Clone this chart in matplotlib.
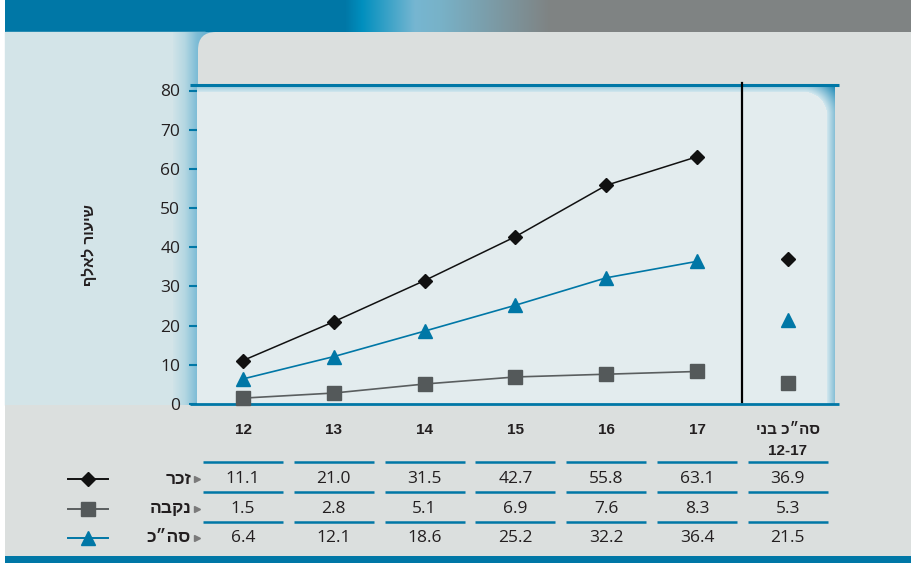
import numpy as np
import matplotlib.pyplot as plt
from matplotlib.colors import to_rgb
from matplotlib.patches import Rectangle, FancyBboxPatch
from matplotlib.transforms import blended_transform_factory

# data: rate per 1000, by age
ages = [12, 13, 14, 15, 16, 17]
male = [11.1, 21.0, 31.5, 42.7, 55.8, 63.1]
female = [1.5, 2.8, 5.1, 6.9, 7.6, 8.3]
total = [6.4, 12.1, 18.6, 25.2, 32.2, 36.4]
# whole 12-17 age group
all_male = 36.9
all_female = 5.3
all_total = 21.5

row_labels = ['זכר', 'נקבה', 'סה״כ']
col_headers = ['12', '13', '14', '15', '16', '17']
all_header = 'סה״כ בני'
all_header2 = '12-17'
y_label = 'שיעור לאלף'
yticks = [0, 10, 20, 30, 40, 50, 60, 70, 80]

BLUE = '#0077a6'
TXT = '#231f20'
HEB = ['Liberation Sans', 'DejaVu Sans']
NUM = ['Open Sans', 'DejaVu Sans']


def rtl(s):
    # matplotlib has no bidi, so flip hebrew by hand
    return s[::-1]


def ramp(stops, xs):
    pos = [p for p, c in stops]
    cols = np.array([to_rgb(c) for p, c in stops])
    return np.stack([np.interp(xs, pos, cols[:, k]) for k in range(3)], axis=-1)


W, H = 911, 563
fig = plt.figure(figsize=(W / 100, H / 100), dpi=100)
fig.patch.set_facecolor('white')

# background layer in pixel coords
bg = fig.add_axes([0, 0, 1, 1], zorder=0)
bg.axis('off')

# top band
xs = np.arange(5, W) + 0.5
band = ramp([(0, BLUE), (345, BLUE), (362, '#008fbe'), (415, '#76b6d1'),
             (440, '#78b2c8'), (550, '#7f8383'), (W, '#7f8383')], xs)
bg.imshow(band[None, :, :], extent=[5, W, 32, 0], aspect='auto', zorder=1)

# left light blue area and strip
bg.add_patch(Rectangle((5, 32), 200, 373, color='#d3e4e8', zorder=1))
xs = np.arange(173, 215) + 0.5
strip = ramp([(173, '#d0e3e8'), (185, '#b4d7e2'), (197, '#7dbcd6'), (215, '#5aa8cc')], xs)
bg.imshow(strip[None, :, :], extent=[173, 215, 405, 32], aspect='auto', zorder=2)

# grey area with rounded corner
bg.add_patch(FancyBboxPatch((198, 32), 800, 420, boxstyle='round,pad=0,rounding_size=18',
                            color='#dbdfde', lw=0, zorder=3))
bg.add_patch(Rectangle((5, 405), W, 151, color='#dbdfde', lw=0, zorder=3))
bg.add_patch(Rectangle((5, 556), W, 8, color=BLUE, lw=0, zorder=3))

# plot panel with blue edge on top and right
px = np.arange(197, 835) + 0.5
py = np.arange(84, 404) + 0.5
X, Y = np.meshgrid(px, py)
r = 23
cx, cy = 827 - r, 92 + r
d = np.maximum(X - 827, 92 - Y)
d = np.where((X > cx) & (Y < cy), np.hypot(X - cx, Y - cy) - r, d)
t = np.clip(d / 21, 0, 1)
e0 = np.array(to_rgb('#d2e7ee'))
e1 = np.array(to_rgb('#0a7fb0'))
img = e0 + (e1 - e0) * t[..., None]
img = np.where((d <= 0)[..., None], np.array(to_rgb('#e3ecee')), img)
bg.imshow(img, extent=[197, 835, 404, 84], aspect='auto', interpolation='bilinear', zorder=4)
bg.plot([190, 839], [84.5, 84.5], color=BLUE, lw=2.2, zorder=5, solid_capstyle='butt')
bg.plot([190, 839], [404, 404], color=BLUE, lw=2.0, zorder=5, solid_capstyle='butt')

bg.set_xlim(0, W)
bg.set_ylim(H, 0)

# main chart
ax = fig.add_axes([197 / W, (H - 404) / H, (835 - 197) / W, (404 - 90.5) / H], zorder=2)
ax.patch.set_alpha(0)
for s in ax.spines.values():
    s.set_visible(False)
ax.set_xlim(11.493, 18.52)
ax.set_ylim(0, 80)
ax.set_yticks(yticks)
ax.set_xticks([])
ax.tick_params(axis='y', direction='out', length=6, width=1.5, color=BLUE, pad=6,
               labelsize=12.5, labelcolor=TXT)
for lab in ax.get_yticklabels():
    lab.set_family(NUM)

ax.plot(ages, male, color='#111111', lw=1.1, marker='D', ms=7.5, clip_on=False)
ax.plot(ages, female, color='#5a5e5f', lw=1.2, marker='s', ms=9.5, mfc='#54595a', mec='#54595a', clip_on=False)
ax.plot(ages, total, color=BLUE, lw=1.2, marker='^', ms=9.5, clip_on=False)
ax.plot([18], [all_male], color='#111111', marker='D', ms=7.5, ls='none')
ax.plot([18], [all_female], color='#54595a', marker='s', ms=9.5, ls='none')
ax.plot([18], [all_total], color=BLUE, marker='^', ms=9.5, ls='none')
ax.axvline(17.5, ymin=0.005, ymax=1.025, color='black', lw=1.6, clip_on=False)

bg.text(89, 245, rtl(y_label), rotation=90, ha='center', va='center',
        family=HEB, weight='bold', size=11, color=TXT, zorder=6)

# table under the chart
tr = blended_transform_factory(ax.transData, bg.transData)
cols = ages + [18]
for x, h in zip(ages, col_headers):
    bg.text(x, 430, h, transform=tr, ha='center', va='center', family=HEB,
            weight='bold', size=11, color=TXT, zorder=6)
bg.text(18, 430, rtl(all_header), transform=tr, ha='center', va='center', family=HEB,
        weight='bold', size=11, color=TXT, zorder=6)
bg.text(18, 451, all_header2, transform=tr, ha='center', va='center', family=HEB,
        weight='bold', size=11, color=TXT, zorder=6)

for y in [462, 492, 522]:
    for x in cols:
        bg.plot([x - 0.44, x + 0.44], [y, y], transform=tr, color=BLUE, lw=1.8,
                solid_capstyle='butt', zorder=6)

rows = [male + [all_male], female + [all_female], total + [all_total]]
row_y = [479, 509, 538]
styles = [dict(color='#111111', marker='D', ms=7.5),
          dict(color='#5a5e5f', marker='s', ms=9.5, mfc='#54595a', mec='#54595a'),
          dict(color=BLUE, marker='^', ms=9.5)]
for vals, y, lab, st in zip(rows, row_y, row_labels, styles):
    for x, v in zip(cols, vals):
        bg.text(x, y, f'{v:.1f}', transform=tr, ha='center', va='center', family=NUM,
                size=12.5, color=TXT, zorder=6)
    bg.text(191, y, rtl(lab), ha='right', va='center', family=HEB, weight='bold',
            size=12.5, color=TXT, zorder=6)
    bg.plot([197], [y], marker='>', ms=5, color='#7a7a7a', zorder=6)
    bg.plot([68, 108], [y, y], lw=1.4, zorder=6, color=st['color'])
    bg.plot([88], [y], ls='none', zorder=7, **st)

bg.set_xlim(0, W)
bg.set_ylim(H, 0)

fig.savefig('out.png', dpi=100)
